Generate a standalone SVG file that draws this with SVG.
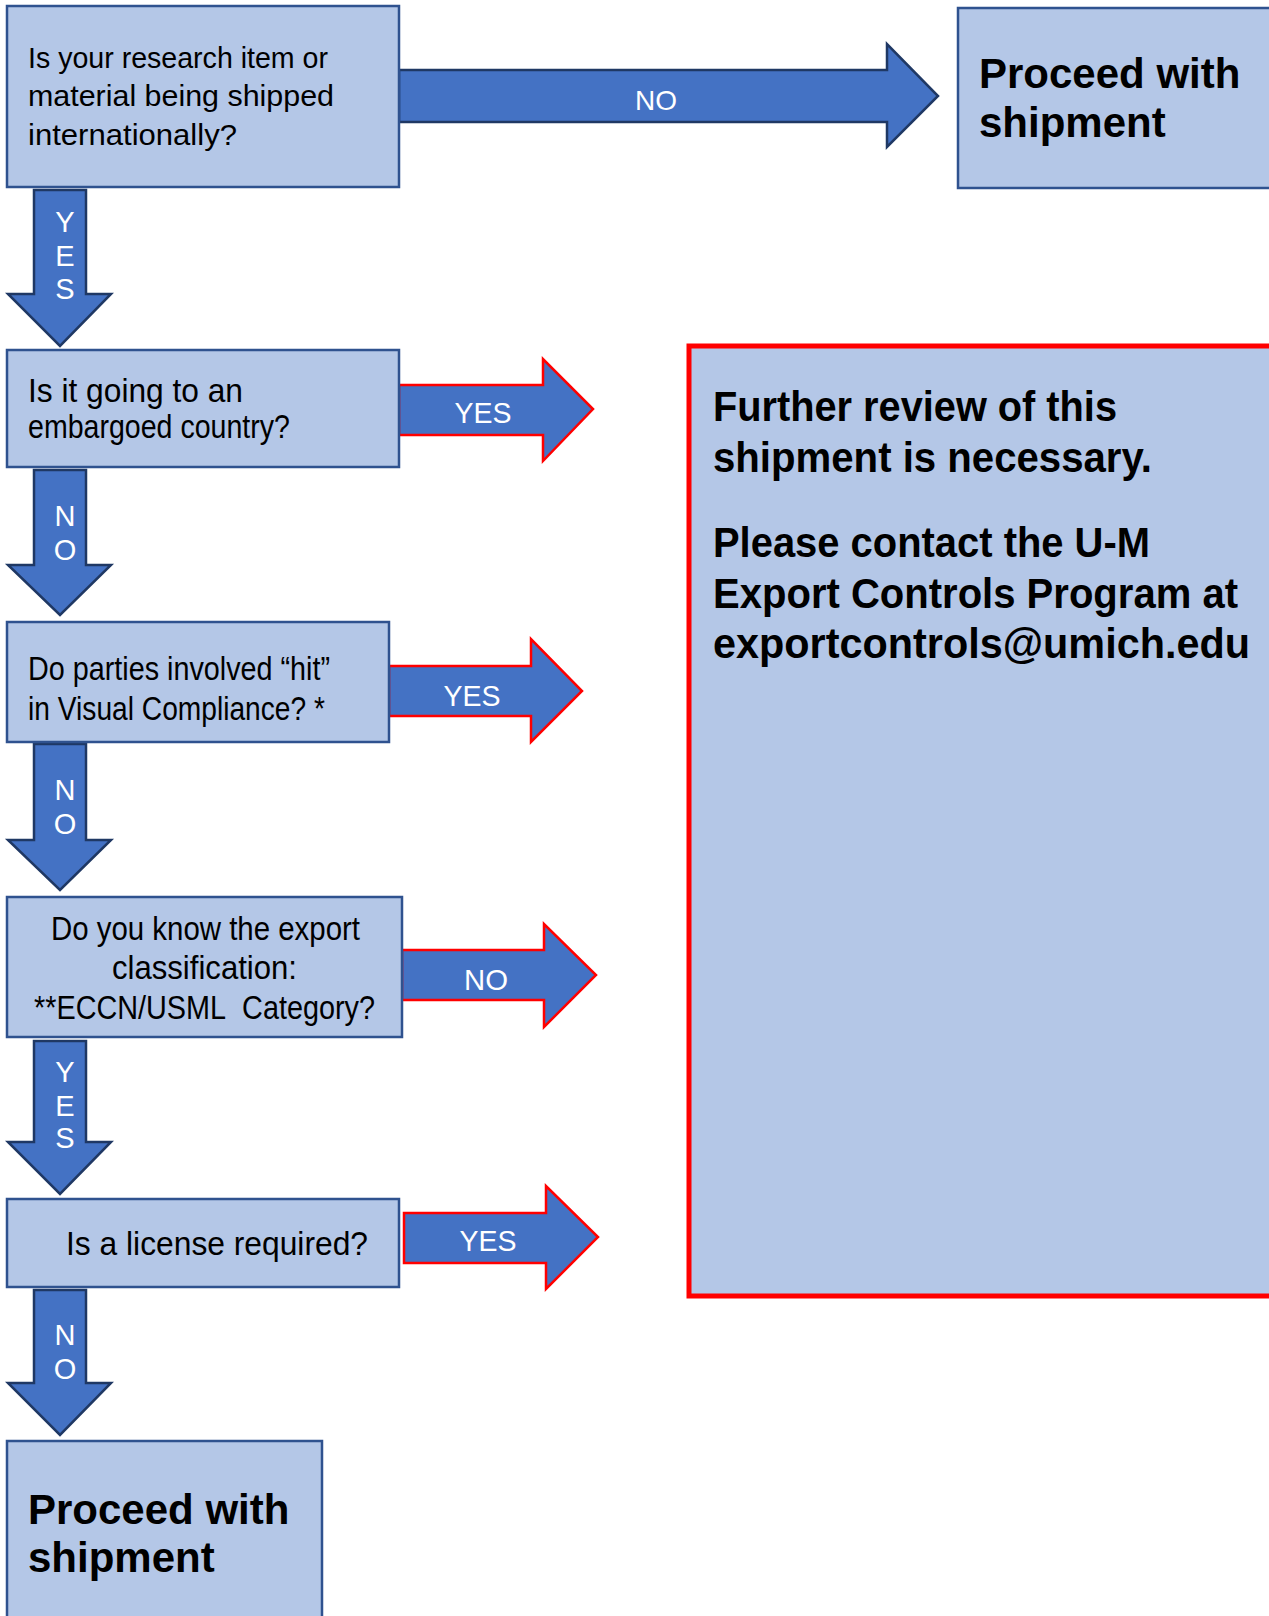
<svg xmlns="http://www.w3.org/2000/svg" width="1269" height="1616" viewBox="0 0 1269 1616">
<style>
.box{fill:#B4C7E7;stroke:#2F528F;stroke-width:2.5}
.red{fill:#B4C7E7;stroke:#FF0000;stroke-width:5}
.arr{fill:#4472C4;stroke:#1F3864;stroke-width:2.5;stroke-linejoin:miter}
.arrR{fill:#4472C4;stroke:#FF0000;stroke-width:2.5;stroke-linejoin:miter}
.q{font-family:"Liberation Sans",Arial,sans-serif;fill:#000}
.b{font-family:"Liberation Sans",Arial,sans-serif;font-weight:bold;fill:#000}
.lbl{font-family:"Liberation Sans",Arial,sans-serif;fill:#fff}
</style>
<rect width="1269" height="1616" fill="#fff"/>
<g id="connectors">
<polygon class="arr" points="399,70 887,70 887,44 938,96 887,147 887,122 399,122"/>
<text class="lbl" x="656" y="110" font-size="28" text-anchor="middle">NO</text>
<polygon class="arr" points="34,190 86,190 86,294 111,294 60,346 8,294 34,294"/>
<text class="lbl" x="65" y="232" font-size="29" text-anchor="middle">Y</text>
<text class="lbl" x="65" y="266" font-size="29" text-anchor="middle">E</text>
<text class="lbl" x="65" y="299" font-size="29" text-anchor="middle">S</text>
<polygon class="arrR" points="399,385 543,385 543,359 593,409 543,461 543,435 399,435"/>
<text class="lbl" x="483" y="423" font-size="30" text-anchor="middle" textLength="57" lengthAdjust="spacingAndGlyphs">YES</text>
<polygon class="arr" points="34,470 86,470 86,565 111,565 60,615 8,565 34,565"/>
<text class="lbl" x="65" y="526" font-size="29" text-anchor="middle">N</text>
<text class="lbl" x="65" y="560" font-size="29" text-anchor="middle">O</text>
<polygon class="arrR" points="389,666 531,666 531,639 582,691 531,742 531,716 389,716"/>
<text class="lbl" x="472" y="706" font-size="30" text-anchor="middle" textLength="57" lengthAdjust="spacingAndGlyphs">YES</text>
<polygon class="arr" points="34,744 86,744 86,840 111,840 60,890 8,840 34,840"/>
<text class="lbl" x="65" y="800" font-size="29" text-anchor="middle">N</text>
<text class="lbl" x="65" y="834" font-size="29" text-anchor="middle">O</text>
<polygon class="arrR" points="402,950 544,950 544,924 596,975 544,1027 544,1000 402,1000"/>
<text class="lbl" x="486" y="990" font-size="30" text-anchor="middle" textLength="44" lengthAdjust="spacingAndGlyphs">NO</text>
<polygon class="arr" points="34,1041 86,1041 86,1142 111,1142 60,1194 8,1142 34,1142"/>
<text class="lbl" x="65" y="1082" font-size="29" text-anchor="middle">Y</text>
<text class="lbl" x="65" y="1116" font-size="29" text-anchor="middle">E</text>
<text class="lbl" x="65" y="1148" font-size="29" text-anchor="middle">S</text>
<polygon class="arrR" points="404,1213 546,1213 546,1186 598,1237 546,1289 546,1263 404,1263"/>
<text class="lbl" x="488" y="1251" font-size="30" text-anchor="middle" textLength="57" lengthAdjust="spacingAndGlyphs">YES</text>
<polygon class="arr" points="34,1290 86,1290 86,1383 111,1383 60,1435 8,1383 34,1383"/>
<text class="lbl" x="65" y="1345" font-size="29" text-anchor="middle">N</text>
<text class="lbl" x="65" y="1379" font-size="29" text-anchor="middle">O</text>
</g>
<g id="q1">
<rect class="box" x="7" y="6" width="392" height="181"/>
<text class="q" font-size="29" x="28" y="68" textLength="300" lengthAdjust="spacingAndGlyphs">Is your research item or</text>
<text class="q" font-size="29" x="28" y="106" textLength="306" lengthAdjust="spacingAndGlyphs">material being shipped</text>
<text class="q" font-size="29" x="28" y="145" textLength="209" lengthAdjust="spacingAndGlyphs">internationally?</text>
</g>
<g id="proceed-top">
<rect class="box" x="958" y="8" width="320" height="180"/>
<text class="b" font-size="42"><tspan x="979" y="88">Proceed with</tspan><tspan x="979" y="137">shipment</tspan></text>
</g>
<g id="q2">
<rect class="box" x="7" y="350" width="392" height="117"/>
<text class="q" font-size="34" x="28" y="402" textLength="215" lengthAdjust="spacingAndGlyphs">Is it going to an</text>
<text class="q" font-size="34" x="28" y="438" textLength="262" lengthAdjust="spacingAndGlyphs">embargoed country?</text>
</g>
<g id="q3">
<rect class="box" x="7" y="622" width="382" height="120"/>
<text class="q" font-size="34" x="28" y="680" textLength="302" lengthAdjust="spacingAndGlyphs">Do parties involved “hit”</text>
<text class="q" font-size="34" x="28" y="720" textLength="297" lengthAdjust="spacingAndGlyphs">in Visual Compliance? *</text>
</g>
<g id="q4">
<rect class="box" x="7" y="897" width="395" height="140"/>
<text class="q" font-size="34" x="51" y="940" textLength="309" lengthAdjust="spacingAndGlyphs">Do you know the export</text>
<text class="q" font-size="34" x="112" y="979" textLength="185" lengthAdjust="spacingAndGlyphs">classification:</text>
<text class="q" font-size="34" x="34" y="1019" textLength="341" lengthAdjust="spacingAndGlyphs">**ECCN/USML&#160; Category?</text>
</g>
<g id="q5">
<rect class="box" x="7" y="1199" width="392" height="88"/>
<text class="q" font-size="34" x="66" y="1255" textLength="302" lengthAdjust="spacingAndGlyphs">Is a license required?</text>
</g>
<g id="proceed-bottom">
<rect class="box" x="7" y="1441" width="315" height="200"/>
<text class="b" font-size="42"><tspan x="28" y="1524">Proceed with</tspan><tspan x="28" y="1572">shipment</tspan></text>
</g>
<g id="review">
<rect class="red" x="689" y="346" width="600" height="950"/>
<text class="b" font-size="42" x="713" y="421" textLength="404" lengthAdjust="spacingAndGlyphs">Further review of this</text>
<text class="b" font-size="42" x="713" y="472" textLength="439" lengthAdjust="spacingAndGlyphs">shipment is necessary.</text>
<text class="b" font-size="42" x="713" y="557" textLength="437" lengthAdjust="spacingAndGlyphs">Please contact the U-M</text>
<text class="b" font-size="42" x="713" y="608" textLength="525" lengthAdjust="spacingAndGlyphs">Export Controls Program at</text>
<text class="b" font-size="42" x="713" y="658" textLength="537" lengthAdjust="spacingAndGlyphs">exportcontrols@umich.edu</text>
</g>
</svg>
